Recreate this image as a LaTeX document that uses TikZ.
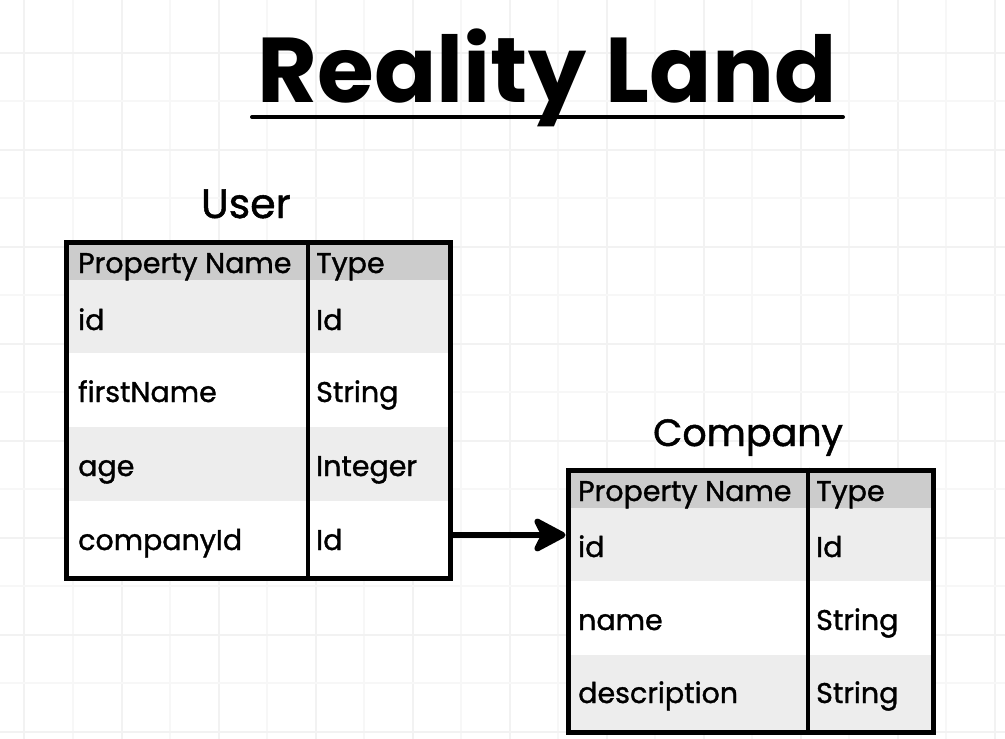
\documentclass[tikz,border=0pt]{standalone}
\usepackage{fontspec}
\setmainfont{Poppins}
\newfontfamily\cellfont[FakeBold=1.2]{Poppins}
\usetikzlibrary{arrows.meta}
\begin{document}
\begin{tikzpicture}[x=1pt,y=-1pt,
  minorgrid/.style={draw=black!3,line width=1.2},
  majorgrid/.style={draw=black!5,line width=1.5},
  hdrfill/.style={fill=black!20,draw=none,inner sep=0pt,anchor=north west},
  rowa/.style={fill=black!7,draw=none,inner sep=0pt,anchor=north west},
  rowb/.style={fill=white,draw=none,inner sep=0pt,anchor=north west},
  frame/.style={draw=black,line width=5,fill=none,inner sep=0pt,anchor=north west},
  divider/.style={draw=black,line width=3.5},
  celltxt/.style={anchor=base west,inner sep=0pt,font=\cellfont\fontsize{28.5}{32}\selectfont},
  tbltitle/.style={anchor=base,inner sep=0pt,font=\cellfont\fontsize{41}{46}\selectfont},
  link/.style={draw=black,line width=6,-{Stealth[length=38pt,width=40pt,inset=10pt,round]}}
]
\useasboundingbox (0,0) rectangle (1005,739);
\fill[white] (0,0) rectangle (1005,739);
% grid
\foreach \gx in {73,170,267,364,461,558,655,752,849,946}
  \draw[minorgrid] (\gx,0) -- (\gx,739);
\foreach \gx in {24,122,219,316,413,510,607,704,801,898,995}
  \draw[majorgrid] (\gx,0) -- (\gx,739);
\foreach \gy in {101,198,295,392,489,586,683}
  \draw[minorgrid] (0,\gy) -- (1005,\gy);
\foreach \gy in {53,150,247,344,441,538,635,732}
  \draw[majorgrid] (0,\gy) -- (1005,\gy);

% title
\node[anchor=base,inner sep=0pt,font=\fontsize{92}{100}\selectfont\bfseries] (title) at (547,102) {Reality Land};
\coordinate (ulA) at (252,117);
\coordinate (ulB) at (843,117);
\draw[line width=4,line cap=round] (ulA) -- (ulB);

% User table
\node[tbltitle] (usertitle) at (246,218) {User};
\node[hdrfill,minimum width=384,minimum height=40] (uh) at (64,240) {};
\node[rowa,minimum width=384,minimum height=73] (u1) at (64,280) {};
\node[rowb,minimum width=384,minimum height=74] (u2) at (64,353) {};
\node[rowa,minimum width=384,minimum height=74] (u3) at (64,427) {};
\node[rowb,minimum width=384,minimum height=75] (u4) at (64,501) {};
\node[frame,minimum width=384,minimum height=336] (user) at (64,240) {};
\coordinate (udA) at (308,240);
\coordinate (udB) at (308,576);
\draw[divider] (udA) -- (udB);
\node[celltxt] (uhn) at (78,273) {Property Name};
\node[celltxt] (uht) at (316,273) {Type};
\node[celltxt] (u1n) at (78,330) {id};
\node[celltxt] (u1t) at (316,330) {Id};
\node[celltxt] (u2n) at (78,402) {firstName};
\node[celltxt] (u2t) at (316,402) {String};
\node[celltxt] (u3n) at (78,476) {age};
\node[celltxt] (u3t) at (316,476) {Integer};
\node[celltxt] (u4n) at (78,550) {companyId};
\node[celltxt] (u4t) at (316,550) {Id};

% Company table
\node[tbltitle,font=\cellfont\fontsize{38}{44}\selectfont] (comptitle) at (748,446) {Company};
\node[hdrfill,minimum width=365,minimum height=40.5] (ch) at (565.5,467.5) {};
\node[rowa,minimum width=365,minimum height=73] (c1) at (565.5,508) {};
\node[rowb,minimum width=365,minimum height=74] (c2) at (565.5,581) {};
\node[rowa,minimum width=365,minimum height=75] (c3) at (565.5,655) {};
\node[frame,minimum width=365,minimum height=262.5] (company) at (565.5,467.5) {};
\coordinate (cdA) at (808,467.5);
\coordinate (cdB) at (808,730);
\draw[divider] (cdA) -- (cdB);
\node[celltxt] (chn) at (578,501) {Property Name};
\node[celltxt] (cht) at (816,501) {Type};
\node[celltxt] (c1n) at (578,557) {id};
\node[celltxt] (c1t) at (816,557) {Id};
\node[celltxt] (c2n) at (578,630) {name};
\node[celltxt] (c2t) at (816,630) {String};
\node[celltxt] (c3n) at (578,703) {description};
\node[celltxt] (c3t) at (816,703) {String};

% connector
\coordinate (arrS) at (user.east |- 0,535);
\draw[link] (arrS) -- (arrS -| company.west);
\end{tikzpicture}
\end{document}
